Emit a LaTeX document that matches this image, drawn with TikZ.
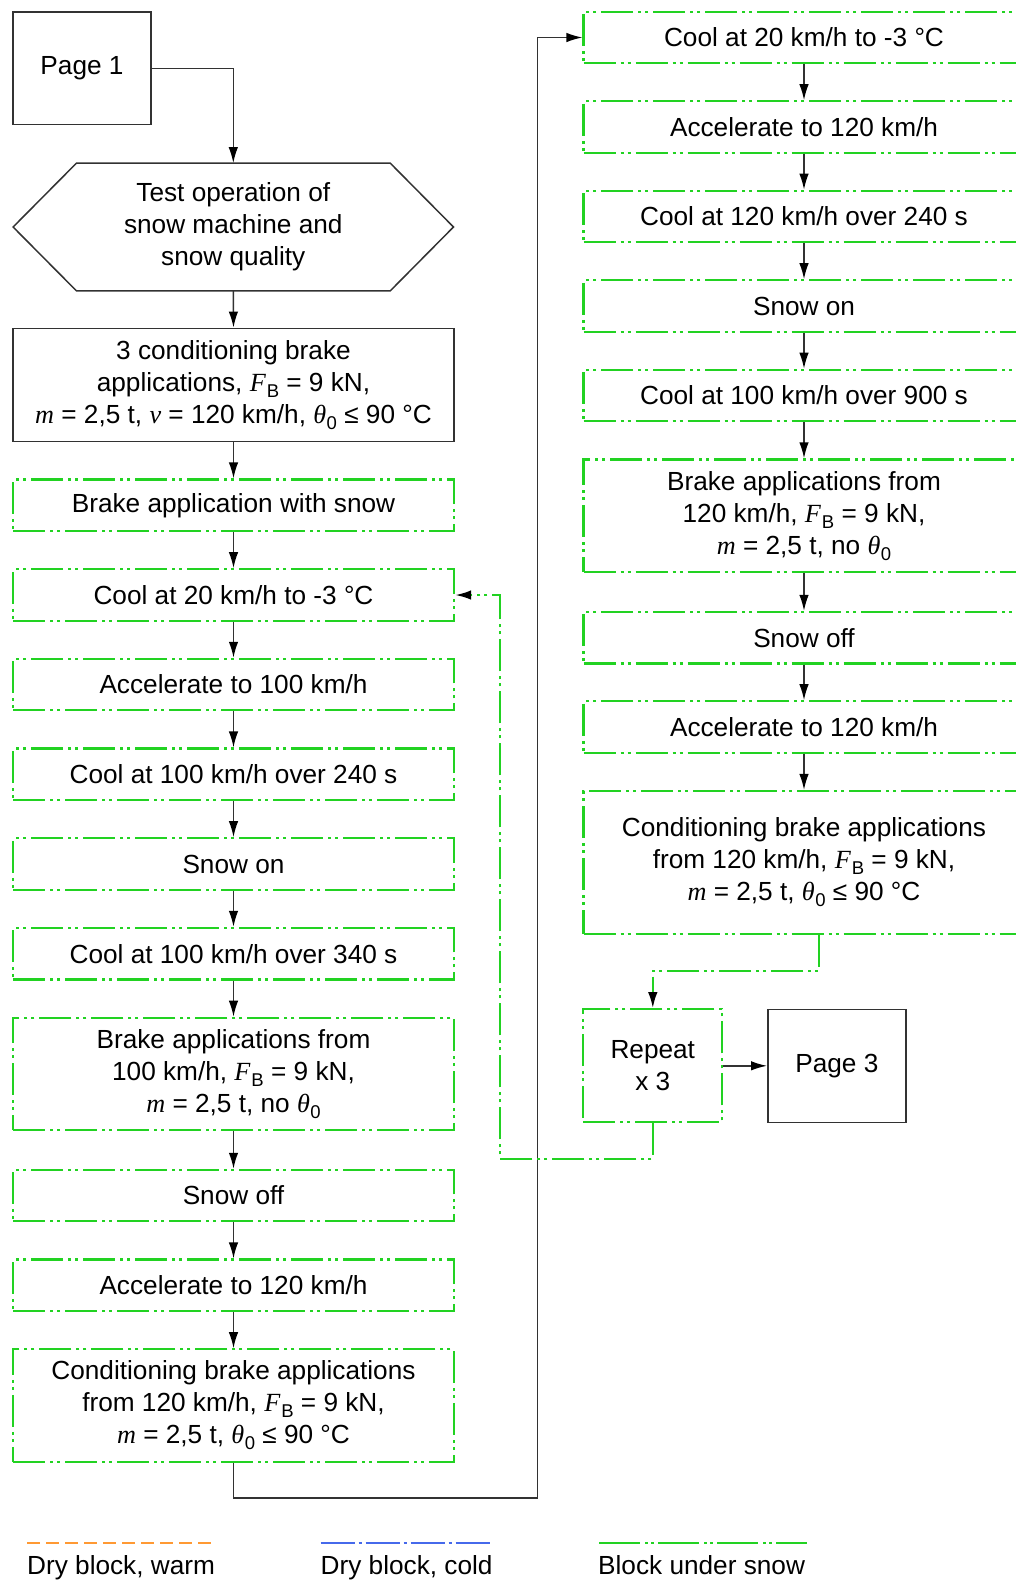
\documentclass[tikz,border=0pt]{standalone}
\usepackage{fontspec}
\setmainfont{Liberation Sans}
\newfontfamily\tmsfam{Liberation Serif}
\usetikzlibrary{arrows.meta}
\definecolor{sgreen}{RGB}{34,210,34}
\definecolor{sorange}{RGB}{255,153,51}
\definecolor{sblue}{RGB}{70,105,235}
\definecolor{bline}{RGB}{50,50,50}
\newcommand\fs{\fontsize{26.2}{32}\selectfont}
\newcommand\subsc[1]{\raisebox{-6pt}{\fontsize{18.5}{18.5}\selectfont #1}}
\newcommand\vFB{{\tmsfam\itshape F}\kern1pt\subsc{B}}
\newcommand\vm{{\tmsfam\itshape m}}
\newcommand\vv{{\tmsfam\itshape v}}
\newcommand\vth{{\tmsfam\itshape θ}\kern0.5pt\subsc{0}}
\tikzset{
  base/.style={inner sep=0pt, align=center, font=\fs, text=black},
  bbox/.style={base, draw=bline, line width=1.5pt},
  gdash/.style={dash pattern=on 32pt off 5pt on 3pt off 4pt on 3pt off 5pt},
  gbox/.style={base, draw=sgreen, line width=2.2pt, gdash, minimum width=441pt},
  sbox/.style={gbox, minimum height=51.5pt},
  tbox/.style={gbox, minimum height=112.4pt},
  tip/.style={-{Latex[length=16pt,width=9.5pt,color=black]}},
  conn/.style={draw=bline, line width=1.5pt, tip},
  gconn/.style={draw=sgreen, line width=2.2pt, gdash, tip},
}
\begin{document}
\begin{tikzpicture}[x=1pt,y=1pt]
\useasboundingbox (0,0) rectangle (1016,-1580);
\clip (0,0) rectangle (1016,-1580);
% left column
\node[bbox, minimum width=138pt, minimum height=112.5pt] (p1) at (82,-68.25) {Page 1};
\node[base, minimum width=440pt, minimum height=127.4pt] (hex) at (233.3,-227) {Test operation of\\snow machine and\\snow quality};
\draw[bline, line width=1.5pt] (hex.west) -- ([xshift=63.4pt]hex.north west) -- ([xshift=-63.3pt]hex.north east) -- (hex.east) -- ([xshift=-63.3pt]hex.south east) -- ([xshift=63.4pt]hex.south west) -- cycle;
\node[bbox, minimum width=441pt, minimum height=113.4pt] (c3) at (233.5,-385) {3 conditioning brake\\applications, \vFB{} = 9 kN,\\\vm{} = 2,5 t, \vv{} = 120 km/h, \vth{} ≤ 90 °C};
\node[sbox] (L1) at (233.5,-505.25) {Brake application with snow};
\node[sbox] (L2) at (233.5,-595) {Cool at 20 km/h to -3 °C};
\node[sbox] (L3) at (233.5,-684.6) {Accelerate to 100 km/h};
\node[sbox] (L4) at (233.5,-774.3) {Cool at 100 km/h over 240 s};
\node[sbox] (L5) at (233.5,-864) {Snow on};
\node[sbox] (L6) at (233.5,-953.7) {Cool at 100 km/h over 340 s};
\node[tbox] (L7) at (233.5,-1074) {Brake applications from\\100 km/h, \vFB{} = 9 kN,\\\vm{} = 2,5 t, no \vth};
\node[sbox] (L8) at (233.5,-1195.6) {Snow off};
\node[sbox] (L9) at (233.5,-1285.3) {Accelerate to 120 km/h};
\node[tbox] (L10) at (233.5,-1405.5) {Conditioning brake applications\\from 120 km/h, \vFB{} = 9 kN,\\\vm{} = 2,5 t, \vth{} ≤ 90 °C};
% right column
\node[sbox] (R1) at (804,-37.5) {Cool at 20 km/h to -3 °C};
\node[sbox] (R2) at (804,-127) {Accelerate to 120 km/h};
\node[sbox] (R3) at (804,-216.5) {Cool at 120 km/h over 240 s};
\node[sbox] (R4) at (804,-306) {Snow on};
\node[sbox] (R5) at (804,-395.5) {Cool at 100 km/h over 900 s};
\node[tbox] (R6) at (804,-515.6) {Brake applications from\\120 km/h, \vFB{} = 9 kN,\\\vm{} = 2,5 t, no \vth};
\node[sbox] (R7) at (804,-637.7) {Snow off};
\node[sbox] (R8) at (804,-727) {Accelerate to 120 km/h};
\node[gbox, minimum height=143pt] (R9) at (804,-862.5) {Conditioning brake applications\\from 120 km/h, \vFB{} = 9 kN,\\\vm{} = 2,5 t, \vth{} ≤ 90 °C};
\node[base, draw=sgreen, line width=2.2pt, gdash, minimum width=139pt, minimum height=113pt] (rep) at (652.8,-1065.8) {Repeat\\x 3};
\node[bbox, minimum width=138.3pt, minimum height=113pt] (p3) at (836.9,-1065.8) {Page 3};
% connectors
\draw[conn] (p1.east) -| (hex.north);
\draw[conn] (hex.south) -- (c3.north);
\draw[conn] (c3.south) -- (L1.north);
\foreach \a/\b in {L1/L2,L2/L3,L3/L4,L4/L5,L5/L6,L6/L7,L7/L8,L8/L9,L9/L10,R1/R2,R2/R3,R3/R4,R4/R5,R5/R6,R6/R7,R7/R8,R8/R9}
  \draw[conn] (\a.south) -- (\b.north);
\coordinate (jb) at (537.7,-1498);
\draw[conn] (L10.south) |- (jb) |- (R1.west);
\coordinate (rj) at (652.8,-971);
\draw[gconn] ([xshift=15.3pt]R9.south) |- (rj) -- (rep.north);
\draw[conn] (rep.east) -- (p3.west);
\coordinate (lp) at (500,-1159);
\draw[gconn] (rep.south) |- (lp) |- (L2.east);
% legend
\draw[sorange, line width=2pt, dash pattern=on 13pt off 6pt] (27.3,-1543.3) -- (213.3,-1543.3);
\draw[sblue, line width=2pt, dash pattern=on 34pt off 4pt on 3pt off 4pt] (320.5,-1543.3) -- (491,-1543.3);
\draw[sgreen, line width=2pt, dash pattern=on 41pt off 5pt on 3pt off 3pt on 3pt off 4pt] (599,-1543.3) -- (806.7,-1543.3);
\node[base, anchor=base west] (lg1) at (27,-1574.3) {Dry block, warm};
\node[base, anchor=base west] (lg2) at (320.5,-1574.3) {Dry block, cold};
\node[base, anchor=base west] (lg3) at (598,-1574.3) {Block under snow};
\end{tikzpicture}
\end{document}
